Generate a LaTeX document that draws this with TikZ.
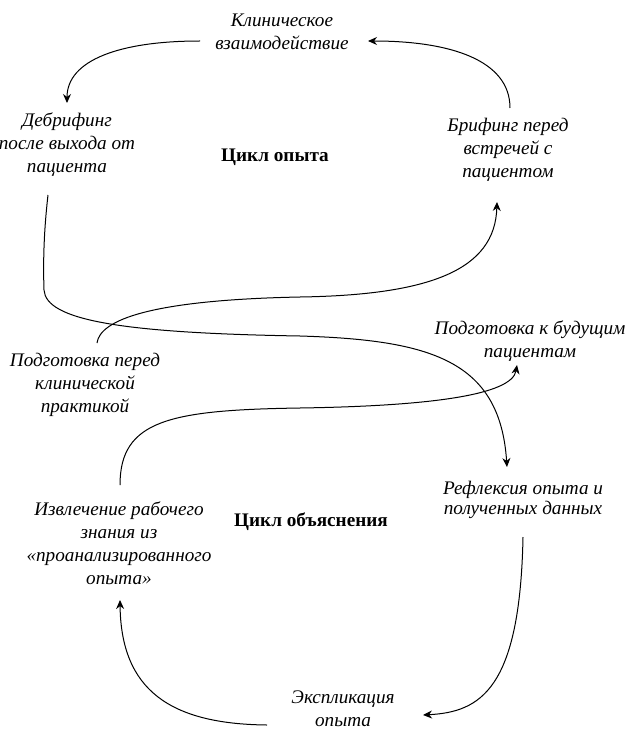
\documentclass[tikz,border=0pt]{standalone}
\usepackage{fontspec}
\setmainfont{Liberation Serif}
\usetikzlibrary{arrows.meta,positioning}

\tikzset{
  stage/.style={align=center,inner sep=0pt,font=\itshape\fontsize{19.2}{23}\selectfont},
  loopname/.style={inner sep=0pt,font=\bfseries\fontsize{19.2}{23}\selectfont},
  flow/.style={-{Stealth[length=9pt,width=8pt]},line width=1pt}
}

\begin{document}
\begin{tikzpicture}[x=1pt,y=-1pt]
\useasboundingbox (0,0) rectangle (627,730);

% Experience cycle
\node [stage] at (282,31.5) (klin)    {Клиническое\\взаимодействие};
\node [stage] at (67,145)   (debrief) {Дебрифинг\\после выхода от\\пациента};
\node [stage] at (508,150)  (brief)   {Брифинг перед\\встречей с\\пациентом};
\node [loopname] at (275,157) (exper) {Цикл опыта};

% Middle row
\node [stage] at (85,385)  (prep)   {Подготовка перед\\клинической\\практикой};
\node [stage] at (530,341) (future) {Подготовка к будущим\\пациентам};

% Explanation cycle
\node [stage,font=\itshape\fontsize{19.2}{20.5}\selectfont] at (523,500) (refl) {Рефлексия опыта и\\полученных данных};
\node [stage] at (119,543.5) (extr) {Извлечение рабочего\\знания из\\«проанализированного\\опыта»};
\node [loopname] at (311,522) (expln) {Цикл объяснения};
\node [stage] at (343,709) (expl) {Экспликация\\опыта};

%Arrows of the upper loop
\draw [flow] ([shift={(-82,9.5)}]klin.center) .. controls +(-80,0) and +(0,-43) .. ([shift={(0,-42)}]debrief.center);
\draw [flow] ([shift={(2,-42)}]brief.center) .. controls +(0,-48) and +(82,0) .. ([shift={(86,9.5)}]klin.center);

%Long crossing arrows
\draw [flow] ([shift={(-19,50)}]debrief.center) .. controls +(-4,35) and +(-1,-30) .. (44,290)
  .. controls +(2,30) and +(-180,-3) .. (300,336)
  .. controls +(130,4) and +(-7,-107) .. ([shift={(-16,-33)}]refl.center);
\draw [flow] ([shift={(12,-42)}]prep.center) .. controls +(3,-23) and +(-150,3) .. (300,297)
  .. controls +(130,-2) and +(-2,68) .. ([shift={(-11,52)}]brief.center);
\draw [flow] ([shift={(1,-58.5)}]extr.center) .. controls +(0,-65) and +(-130,2) .. (300,408)
  .. controls +(130,-2) and +(-5,30) .. ([shift={(-13,24)}]future.center);

%Arrows of the lower loop
\draw [flow] ([shift={(0,37)}]refl.center) .. controls +(-3,153) and +(57,-3) .. ([shift={(80,6)}]expl.center);
\draw [flow] ([shift={(-76,16)}]expl.center) .. controls +(-97,-1) and +(1,90) .. ([shift={(1,56.5)}]extr.center);

\end{tikzpicture}
\end{document}
